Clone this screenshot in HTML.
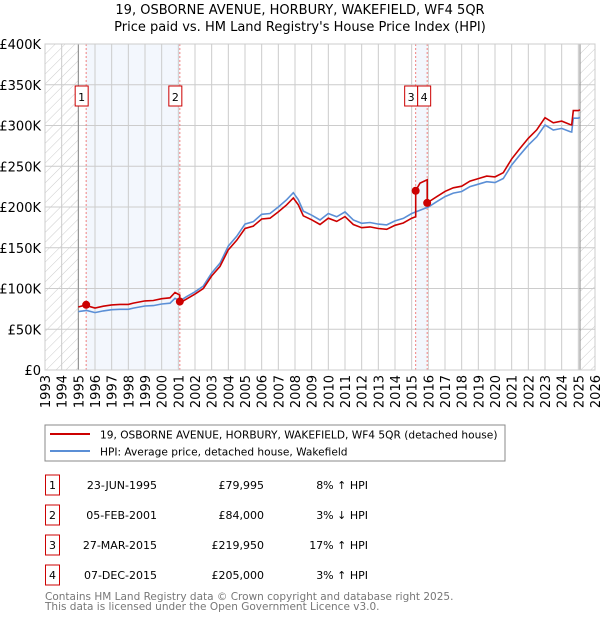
<!DOCTYPE html>
<html><head><meta charset="utf-8"><style>
body{margin:0;background:#fff;font-family:"DejaVu Sans","Liberation Sans",sans-serif;}
svg text{font-family:"DejaVu Sans","Liberation Sans",sans-serif;}
</style></head><body>
<svg id="chart" width="600" height="620" xmlns="http://www.w3.org/2000/svg">
<defs><pattern id="hatch" width="7" height="7" patternUnits="userSpaceOnUse" patternTransform="rotate(45)"><line x1="0" y1="0" x2="0" y2="7" stroke="#ccc" stroke-width="1"/></pattern></defs>
<text x="300" y="14" text-anchor="middle" font-size="13">19, OSBORNE AVENUE, HORBURY, WAKEFIELD, WF4 5QR</text>
<text x="300" y="31" text-anchor="middle" font-size="13">Price paid vs. HM Land Registry's House Price Index (HPI)</text>
<g id="plot"></g>
<rect x="45" y="425" width="460" height="36" fill="#fff" stroke="#888"/>
<line x1="50" y1="434" x2="90" y2="434" stroke="#cc0000" stroke-width="2"/>
<text x="100" y="438.5" font-size="10.6">19, OSBORNE AVENUE, HORBURY, WAKEFIELD, WF4 5QR (detached house)</text>
<line x1="50" y1="451" x2="90" y2="451" stroke="#5b8fd6" stroke-width="2"/>
<text x="100" y="455.5" font-size="10.6">HPI: Average price, detached house, Wakefield</text>
<g id="table"></g>
<text x="45" y="600" font-size="10.5" fill="#777">Contains HM Land Registry data © Crown copyright and database right 2025.</text>
<text x="45" y="610" font-size="10.5" fill="#777">This data is licensed under the Open Government Licence v3.0.</text>
</svg>
<script>
const hpiYears=[1995.0,1995.5,1996.0,1996.5,1997.0,1997.5,1998.0,1998.3,1999.0,1999.5,2000.0,2000.5,2000.8,2001.1,2001.5,2002.0,2002.5,2003.0,2003.5,2004.0,2004.5,2005.0,2005.5,2006.0,2006.5,2007.0,2007.5,2007.9,2008.2,2008.5,2009.0,2009.5,2010.0,2010.5,2011.0,2011.5,2012.0,2012.5,2013.0,2013.5,2014.0,2014.5,2015.0,2015.5,2016.0,2016.5,2017.0,2017.5,2018.0,2018.5,2019.0,2019.5,2020.0,2020.5,2021.0,2021.5,2022.0,2022.5,2023.0,2023.5,2024.0,2024.5,2024.6,2024.7,2025.0,2025.1];
const hpiValues=[71.6,73,70.4,72.5,74,74.5,74.5,76,78.5,79,81,82,88,85,90,96,103,119,131,152,164,179,182,191,192,200,209,217.6,209,195,190,184,192,188,194,184,180,181,179,178,183,186,192,196,200,206.5,212.7,217,219,225,228,231,230,235,251.5,264,276,286,300.6,294.5,296.5,292.5,292,309,309,310];
const saleLabels=["1","2","3","4"];
const saleYears=[1995.47,2001.09,2015.24,2015.93];
const salePrices=[79995,84000,219950,205000];
const saleDates=["23-JUN-1995","05-FEB-2001","27-MAR-2015","07-DEC-2015"];
const salePriceText=["£79,995","£84,000","£219,950","£205,000"];
const saleHpiText=["8% ↑ HPI","3% ↓ HPI","17% ↑ HPI","3% ↑ HPI"];
const saleRatios=[1.08,0.97,1.17,1.03];
const yTicks=[0,50,100,150,200,250,300,350,400];
const yTickLabels=["£0","£50K","£100K","£150K","£200K","£250K","£300K","£350K","£400K"];
const xTicks=[1993,1994,1995,1996,1997,1998,1999,2000,2001,2002,2003,2004,2005,2006,2007,2008,2009,2010,2011,2012,2013,2014,2015,2016,2017,2018,2019,2020,2021,2022,2023,2024,2025,2026];

const X0=45,X1=595,Y0=370,Y1=44;
const xs=y=>X0+(y-1993)/(2026-1993)*(X1-X0);
const ys=v=>Y0-v/400*(Y0-Y1);
const NS="http://www.w3.org/2000/svg";
const plot=document.getElementById('plot');
function mk(tag,attrs,parent){const e=document.createElementNS(NS,tag);for(const k in attrs)e.setAttribute(k,attrs[k]);(parent||plot).appendChild(e);return e;}

let e;
e=mk('rect',{x:xs(saleYears[0]),y:Y1,width:xs(saleYears[1])-xs(saleYears[0]),height:Y0-Y1,fill:'#eef3fc',opacity:0.7});


e=mk('rect',{x:xs(saleYears[2]),y:Y1,width:xs(saleYears[3])-xs(saleYears[2]),height:Y0-Y1,fill:'#eef3fc',opacity:0.7});


e=mk('rect',{x:X0,y:Y1,width:xs(1995)-X0,height:Y0-Y1,fill:'url(#hatch)'});


e=mk('rect',{x:xs(2025.1),y:Y1,width:X1-xs(2025.1),height:Y0-Y1,fill:'url(#hatch)'});



yTicks.forEach((t,i)=>{
  e=mk('line',{x1:X0,x2:X1,y1:ys(t),y2:ys(t),stroke:'#ccc'});
  
  
  e=mk('text',{x:X0-4,y:ys(t)+5,'text-anchor':'end','font-size':13});
  e.textContent=yTickLabels[i];
  
  
});
xTicks.forEach(t=>{
  e=mk('line',{x1:xs(t),x2:xs(t),y1:Y1,y2:Y0,stroke:'#ccc'});
  
  
  e=mk('text',{x:0,y:0,'text-anchor':'end','font-size':13,transform:`translate(${xs(t)+5},${Y0+5}) rotate(-90)`});
  e.textContent=t;
  
  
});
e=mk('line',{x1:xs(1995),x2:xs(1995),y1:Y1,y2:Y0,stroke:'#888'});


e=mk('line',{x1:xs(2025.1),x2:xs(2025.1),y1:Y1,y2:Y0,stroke:'#888'});



saleYears.forEach((sy,i)=>{
  e=mk('line',{x1:xs(sy),x2:xs(sy),y1:Y1,y2:Y0,stroke:'#f08080','stroke-dasharray':'2,2'});
  
  
});

let d=hpiYears.map((y,i)=>(i?'L':'M')+xs(y).toFixed(1)+','+ys(hpiValues[i]).toFixed(1)).join('');
e=mk('path',{d:d,fill:'none',stroke:'#5b8fd6','stroke-width':1.6});


function hpiAt(y){for(let i=1;i<hpiYears.length;i++){if(y<=hpiYears[i]){const f=(y-hpiYears[i-1])/(hpiYears[i]-hpiYears[i-1]);return hpiValues[i-1]+f*(hpiValues[i]-hpiValues[i-1]);}}return hpiValues[hpiValues.length-1];}
function seg(y){let k=0;for(let i=0;i<saleYears.length;i++)if(y>=saleYears[i])k=i;return k;}
let pts=[];
hpiYears.forEach((y,i)=>{
  saleYears.forEach((sy,j)=>{if(sy>(i?hpiYears[i-1]:0)&&sy<=y){
    if(j>0)pts.push([sy,hpiAt(sy)*saleRatios[j-1]]);
    pts.push([sy,salePrices[j]/1000]);}});
  pts.push([y,hpiValues[i]*saleRatios[seg(y)]]);
});
d=pts.map((p,i)=>(i?'L':'M')+xs(p[0]).toFixed(1)+','+ys(p[1]).toFixed(1)).join('');
e=mk('path',{d:d,fill:'none',stroke:'#cc0000','stroke-width':1.6});



let prevRight=-100;
saleYears.forEach((sy,i)=>{
  e=mk('circle',{cx:xs(sy),cy:ys(salePrices[i]/1000),r:4,fill:'#cc0000'});
  
  
  let bx=Math.max(xs(sy)-11,prevRight); prevRight=bx+13;
  e=mk('rect',{x:bx,y:86,width:13,height:20,fill:'#fff',stroke:'#cc0000'});
  
  
  e=mk('text',{x:bx+6.5,y:101,'text-anchor':'middle','font-size':11});
  e.textContent=saleLabels[i];
  
  
});
e=mk('rect',{x:X0,y:Y1,width:X1-X0,height:Y0-Y1,fill:'none',stroke:'#ccc'});



const table=document.getElementById('table');
saleLabels.forEach((l,i)=>{
  const y=497+i*30;
  e=mk('rect',{x:45.5,y:y-22,width:14,height:20,fill:'#fff',stroke:'#cc0000'},table);
  
  
  e=mk('text',{x:52.5,y:y-8,'text-anchor':'middle','font-size':11},table);e.textContent=l;
  
  
  e=mk('text',{x:157,y:y-8,'text-anchor':'end','font-size':11},table);e.textContent=saleDates[i];
  
  
  e=mk('text',{x:264,y:y-8,'text-anchor':'end','font-size':11},table);e.textContent=salePriceText[i];
  
  
  e=mk('text',{x:368,y:y-8,'text-anchor':'end','font-size':11},table);e.textContent=saleHpiText[i];
  
  
});
</script>
</body></html>
